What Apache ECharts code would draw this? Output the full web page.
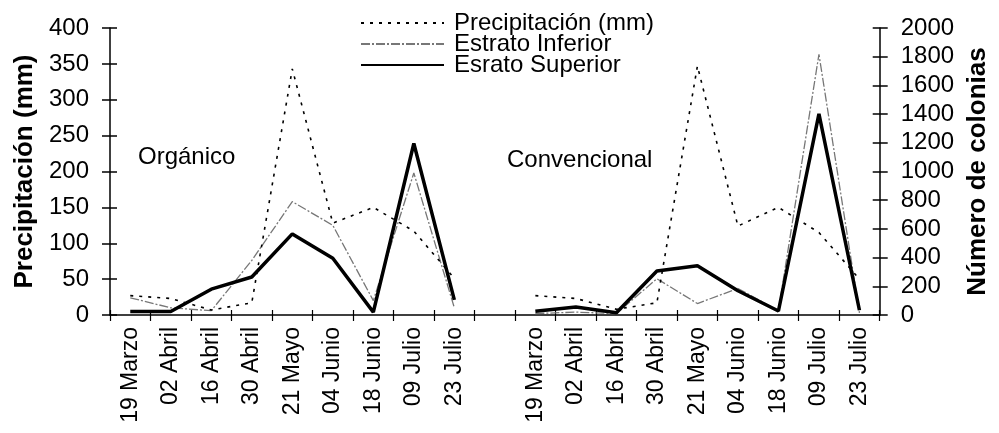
<!DOCTYPE html>
<html>
<head>
<meta charset="utf-8">
<script src="https://cdn.jsdelivr.net/npm/echarts@6/dist/echarts.min.js"></script>
<style>
html,body{margin:0;padding:0;background:#fff;}
#chart{width:999px;height:433px;}
</style>
</head>
<body>
<div id="chart"></div>
<script>
// ---- data ----
const dates = ['19 Marzo','02 Abril','16 Abril','30 Abril','21 Mayo','04 Junio','18 Junio','09 Julio','23 Julio'];
const categories = dates.concat(['']).concat(dates);

// Precipitación (mm) – left axis
const precipOrganico = [27, 23, 7, 17, 343, 128, 150, 117, 51];
const precipConvencional = [27, 23, 8, 17, 347, 124, 150, 115, 50];

// Número de colonias – right axis
const inferiorOrganico = [120, 50, 30, 380, 790, 625, 100, 990, 50];
const inferiorConvencional = [10, 20, 10, 253, 80, 185, 30, 1817, 15];
const superiorOrganico = [25, 25, 180, 265, 565, 395, 20, 1195, 105];
const superiorConvencional = [26, 56, 16, 307, 343, 169, 28, 1401, 33];

const leftTicks = {min: 0, max: 400, interval: 50};
const rightTicks = {min: 0, max: 2000, interval: 200};

const panelLabels = ['Orgánico', 'Convencional'];
const seriesNames = ['Precipitación (mm)', 'Estrato Inferior', 'Esrato Superior'];

function join(a, b){ return a.concat([null]).concat(b); }

const FONT = '"Liberation Sans", Arial, sans-serif';
const chart = echarts.init(document.getElementById('chart'), null, {renderer: 'canvas'});

const yBase = {
  type: 'value',
  axisLine: {show: true, lineStyle: {color: '#000', width: 1.5}},
  axisTick: {show: true, length: 8, lineStyle: {color: '#000', width: 1.5}},
  splitLine: {show: false},
  axisLabel: {color: '#000', fontSize: 24, fontFamily: FONT, margin: 21, formatter: v => String(v)}
};

chart.setOption({
  animation: false,
  backgroundColor: '#fff',
  textStyle: {fontFamily: FONT, color: '#000'},
  grid: {left: 110, right: 104, top: 28, bottom: 118, containLabel: false},
  legend: {
    orient: 'vertical',
    left: 355,
    top: 6,
    itemWidth: 83,
    itemHeight: 12,
    itemGap: -3,
    itemStyle: {opacity: 0},
    textStyle: {fontSize: 24, color: '#000', fontFamily: FONT, lineHeight: 21, padding: [0, 0, 0, 5]},
    data: seriesNames
  },
  xAxis: [{
    type: 'category',
    data: categories,
    boundaryGap: true,
    axisLine: {lineStyle: {color: '#000', width: 1.5}},
    axisTick: {show: true, length: 6, interval: 0, lineStyle: {color: '#000', width: 1.2}},
    axisLabel: {interval: 0, rotate: 90, color: '#000', fontSize: 23, fontFamily: FONT, margin: 12}
  }, {
    type: 'category',
    position: 'bottom',
    data: categories,
    boundaryGap: true,
    axisLine: {show: false},
    axisTick: {show: true, inside: true, length: 5, interval: 0, lineStyle: {color: '#000', width: 1.2}},
    axisLabel: {show: false}
  }],
  yAxis: [
    Object.assign({}, yBase, leftTicks, {
      position: 'left',
      name: 'Precipitación (mm)',
      nameLocation: 'middle',
      nameRotate: 90,
      nameGap: 72,
      nameTextStyle: {fontSize: 26, fontWeight: 'bold', color: '#000', fontFamily: FONT}
    }),
    Object.assign({}, yBase, rightTicks, {
      position: 'right',
      name: 'Número de colonias',
      nameLocation: 'middle',
      nameRotate: 90,
      nameGap: 79,
      nameTextStyle: {fontSize: 26, fontWeight: 'bold', color: '#000', fontFamily: FONT}
    }),
    Object.assign({}, leftTicks, {
      type: 'value', position: 'left', axisLine: {show: false}, splitLine: {show: false},
      axisTick: {show: true, inside: true, length: 7, lineStyle: {color: '#000', width: 1.5}},
      axisLabel: {show: false}
    }),
    Object.assign({}, rightTicks, {
      type: 'value', position: 'right', axisLine: {show: false}, splitLine: {show: false},
      axisTick: {show: true, inside: true, length: 7, lineStyle: {color: '#000', width: 1.5}},
      axisLabel: {show: false}
    })
  ],
  graphic: [
    {type: 'text', left: 138, top: 145, style: {text: panelLabels[0], fontSize: 24, fontFamily: FONT, fill: '#000'}},
    {type: 'text', left: 507, top: 148, style: {text: panelLabels[1], fontSize: 24, fontFamily: FONT, fill: '#000'}}
  ],
  series: [
    {
      name: seriesNames[0], type: 'line', yAxisIndex: 0, symbol: 'none', connectNulls: false,
      data: join(precipOrganico, precipConvencional),
      lineStyle: {color: '#000', width: 1.6, type: [3, 6]},
      itemStyle: {color: '#000'}, z: 3
    },
    {
      name: seriesNames[1], type: 'line', yAxisIndex: 1, symbol: 'none', connectNulls: false,
      data: join(inferiorOrganico, inferiorConvencional),
      lineStyle: {color: '#777', width: 1.3, type: [9, 2, 2, 2]},
      itemStyle: {color: '#555'}, z: 2
    },
    {
      name: seriesNames[2], type: 'line', yAxisIndex: 1, symbol: 'none', connectNulls: false,
      data: join(superiorOrganico, superiorConvencional),
      lineStyle: {color: '#000', width: 3.5},
      itemStyle: {color: '#000'}, z: 4
    }
  ]
});
</script>
</body>
</html>
